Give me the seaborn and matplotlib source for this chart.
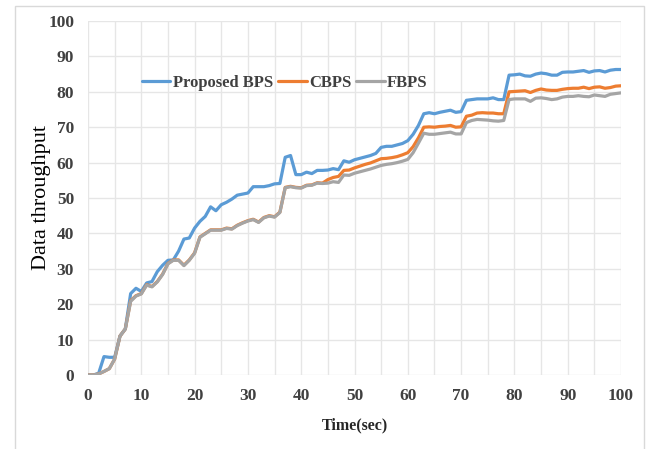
import numpy as np
import pandas as pd
import matplotlib
matplotlib.use("Agg")
import matplotlib.pyplot as plt
import seaborn as sns
from matplotlib.patches import Rectangle
from matplotlib.lines import Line2D

time_sec = list(range(0, 101))

proposed_bps = [
    0, 0, 0.5, 5.2, 5.0, 5.0, 11, 13, 23, 24.5,
    23.6, 26, 26.4, 29.2, 31, 32.4, 32.5, 35, 38.4, 38.7,
    41.5, 43.4, 44.8, 47.5, 46.4, 48.1, 48.8, 49.7, 50.8, 51.1,
    51.4, 53.2, 53.2, 53.2, 53.5, 54, 54.1, 61.5, 62, 56.6,
    56.6, 57.3, 56.9, 57.8, 57.8, 57.9, 58.3, 58, 60.5, 60.1,
    60.8, 61.2, 61.6, 62, 62.6, 64.3, 64.6, 64.6, 65, 65.4,
    66.2, 68, 70.5, 73.8, 74.1, 73.8, 74.2, 74.5, 74.8, 74.2,
    74.4, 77.6, 77.8, 78, 78, 78, 78.3, 77.8, 77.8, 84.7,
    84.8, 85, 84.5, 84.4, 85, 85.3, 85.1, 84.7, 84.7, 85.5,
    85.6, 85.6, 85.8, 86, 85.5, 85.9, 86, 85.6, 86.1, 86.3,
    86.3,
]

cbps = [
    0, 0, 0.3, 1, 1.8, 4.5, 11, 13, 21, 22.4,
    23, 25.5, 25, 26.4, 28.5, 31.5, 32.5, 32.5, 31, 32.5,
    34.5, 39, 40, 41, 41, 41, 41.5, 41.3, 42.3, 43,
    43.6, 44, 43.2, 44.5, 45, 44.7, 46, 53, 53.3, 53,
    52.9, 53.6, 53.7, 54.3, 54.2, 55.2, 55.8, 56.1, 57.8, 57.9,
    58.5, 59, 59.5, 59.9, 60.5, 61.1, 61.2, 61.4, 61.7, 62.2,
    62.8, 64.5, 67, 70, 70.1, 70, 70.2, 70.3, 70.5, 70,
    70.1, 73.1, 73.4, 74, 74.1, 74, 74, 73.8, 73.8, 80,
    80.1, 80.2, 80.3, 79.8, 80.4, 80.8, 80.5, 80.4, 80.4, 80.7,
    80.9, 81, 81, 81.3, 80.9, 81.3, 81.4, 81, 81.2, 81.6,
    81.7,
]

fbps = [
    0, 0, 0.3, 1, 1.8, 4.5, 11, 13, 20.8, 22.3,
    22.9, 25.4, 24.9, 26.3, 28.4, 31.4, 32.4, 32.4, 30.9, 32.4,
    34.4, 38.9, 39.9, 40.9, 40.9, 40.9, 41.4, 41.2, 42.2, 42.9,
    43.5, 43.9, 43.1, 44.4, 44.9, 44.6, 45.9, 52.9, 53.2, 52.9,
    52.8, 53.5, 53.6, 54.2, 54.1, 54.2, 54.6, 54.4, 56.5, 56.4,
    57, 57.4, 57.8, 58.2, 58.7, 59.2, 59.5, 59.7, 60, 60.4,
    60.9, 62.8, 65.5, 68.3, 68, 68, 68.2, 68.4, 68.6, 68.1,
    68.1, 71.3, 71.9, 72.2, 72.1, 72, 71.8, 71.7, 71.9, 77.8,
    78, 78, 78, 77.3, 78.2, 78.3, 78.1, 77.8, 78, 78.5,
    78.7, 78.7, 78.9, 78.7, 78.6, 79.1, 78.9, 78.7, 79.3, 79.5,
    79.7,
]

series_names = ["Proposed BPS", "CBPS", "FBPS"]
series_colors = ["#5B9BD5", "#ED7D31", "#A5A5A5"]

x_ticks = list(range(0, 101, 10))
y_ticks = list(range(0, 101, 10))

df = pd.concat([
    pd.DataFrame({"Time": time_sec, "Throughput": vals, "Series": name})
    for name, vals in zip(series_names, [proposed_bps, cbps, fbps])
], ignore_index=True)

sns.set_theme(style="white")
plt.rcParams["font.family"] = ["Liberation Serif", "DejaVu Serif"]

fig = plt.figure(figsize=(6.51, 4.49), dpi=100)
ax = fig.add_axes([88 / 651, 1 - 375 / 449, (621 - 88) / 651, (375 - 21) / 449])

# chart-area border
fig.patches.append(Rectangle((15 / 651, -0.1), (644 - 15) / 651, 1.1 - 6 / 449,
                             transform=fig.transFigure, fill=False,
                             edgecolor="#D9D9D9", linewidth=1.0, zorder=0))

sns.lineplot(data=df, x="Time", y="Throughput", hue="Series",
             hue_order=series_names, palette=dict(zip(series_names, series_colors)),
             linewidth=2.3, ax=ax, legend=False, estimator=None, sort=False)

ax.set_xlim(0, 100)
ax.set_ylim(0, 100)
ax.set_xticks(x_ticks)
ax.set_yticks(y_ticks)
ax.set_xticks(np.arange(5, 100, 10), minor=True)
ax.grid(True, which="major", color="#E6E6E6", linewidth=1.0)
ax.grid(True, which="minor", axis="x", color="#E6E6E6", linewidth=1.0)
ax.set_axisbelow(True)
for s in ax.spines.values():
    s.set_visible(False)

ax.tick_params(axis="both", which="both", length=0)
ax.tick_params(axis="y", pad=10)
ax.tick_params(axis="x", pad=9)
for lab in ax.get_xticklabels() + ax.get_yticklabels():
    lab.set_fontweight("bold")
    lab.set_fontsize(12.5)
    lab.set_color("#404040")

ax.set_xlabel("Time(sec)", fontsize=11.5, fontweight="bold", color="#262626", labelpad=10)
ax.set_ylabel("Data throughput", fontsize=16, color="black", labelpad=-2)

handles = [Line2D([], [], color=c, linewidth=2.3) for c in series_colors]
leg = fig.legend(handles, series_names, loc="center",
                 bbox_to_anchor=(285 / 651, 1 - 83 / 449), ncol=3, frameon=False,
                 prop={"family": "Liberation Serif", "weight": "bold", "size": 12},
                 handlelength=1.7, handletextpad=0.15, columnspacing=0.3)
for t in leg.get_texts():
    t.set_color("#404040")

fig.savefig("out.png", dpi=100, facecolor="white")
